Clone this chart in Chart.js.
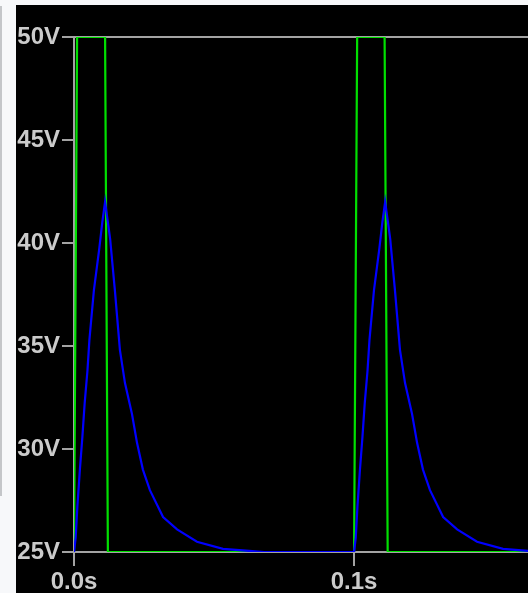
<!DOCTYPE html>
<html lang="en">
<head>
  <meta charset="UTF-8">
  <title>Transient</title>
  <style>
    body { margin: 0; background: #f7f8fa; width: 528px; height: 593px; overflow: hidden; position: relative; }
    .edge { position: absolute; left: 0; top: 6px; width: 2px; height: 490px; background: #c4c6c9; }
    .plot { position: absolute; left: 16px; top: 5px; width: 512px; height: 588px; background: #000; }
  </style>
</head>
<body>
  <div class="edge"></div>
  <div class="plot">
    <canvas id="chart" width="512" height="588"></canvas>
  </div>
  <script src="https://cdn.jsdelivr.net/npm/chart.js@4/dist/chart.umd.min.js"></script>
  <script>
    // tick labels
    const voltTicks = [25, 30, 35, 40, 45, 50];
    const timeTicks = [0, 0.1];

    // green trace (square pulse)
    const greenTimes = [0, 0.0011, 0.0111, 0.0121, 0.1, 0.1011, 0.1109, 0.112, 0.1621];
    const greenVolts = [25, 50, 50, 25, 25, 50, 50, 25, 25];

    // blue trace (charge / discharge)
    const blueTimes = [
      0, 0.0006, 0.0012, 0.0021, 0.003, 0.0038, 0.0048, 0.0055, 0.0071, 0.009, 0.0101, 0.0111,
      0.0121, 0.0129, 0.0146, 0.0164, 0.0182, 0.0207, 0.0225, 0.0246, 0.0271, 0.0318, 0.0368,
      0.0439, 0.0532, 0.0625, 0.0679,
      0.1, 0.1006, 0.1012, 0.1021, 0.103, 0.1038, 0.1048, 0.1055, 0.1071, 0.109, 0.1101, 0.1111,
      0.1121, 0.1129, 0.1146, 0.1164, 0.1182, 0.1207, 0.1225, 0.1246, 0.1271, 0.1318, 0.1368,
      0.1439, 0.1532, 0.1621
    ];
    const blueVolts = [
      25, 25.7, 27.2, 29.0, 30.6, 32.2, 33.8, 35.3, 37.7, 39.7, 41.0, 42.0,
      41.0, 40.2, 37.7, 34.8, 33.2, 31.7, 30.3, 29.0, 28.0, 26.7, 26.1,
      25.5, 25.15, 25.05, 25.0,
      25, 25.7, 27.2, 29.0, 30.6, 32.2, 33.8, 35.3, 37.7, 39.7, 41.0, 42.0,
      41.0, 40.2, 37.7, 34.8, 33.2, 31.7, 30.3, 29.0, 28.0, 26.7, 26.1,
      25.5, 25.15, 25.05
    ];

    const gray = '#a3a3a3';
    const labelFont = { family: 'Arial, "Liberation Sans"', size: 24, weight: 'bold' };
    const points = (xs, ys) => xs.map((x, i) => ({ x: x, y: ys[i] }));

    new Chart(document.querySelector('#chart').getContext('2d'), {
      type: 'line',
      data: {
        datasets: [
          { data: points(blueTimes, blueVolts), borderColor: '#0000ff', borderWidth: 2.2 },
          { data: points(greenTimes, greenVolts), borderColor: '#00e000', borderWidth: 2.2 }
        ]
      },
      options: {
        responsive: false,
        animation: false,
        events: [],
        layout: { padding: { top: 32, right: 0, left: 0, bottom: 0 } },
        elements: { point: { radius: 0 }, line: { tension: 0 } },
        plugins: { legend: { display: false }, tooltip: { enabled: false } },
        scales: {
          x: {
            type: 'linear',
            min: 0,
            max: 0.1621,
            afterBuildTicks: (s) => { s.ticks = timeTicks.map((v) => ({ value: v })); },
            afterFit: (s) => { s.height = 41; },
            ticks: {
              color: '#cbcbcb',
              font: labelFont,
              padding: 2,
              maxRotation: 0,
              autoSkip: false,
              callback: (v) => v.toFixed(1) + 's'
            },
            grid: { color: 'transparent', tickColor: gray, tickLength: 14, lineWidth: 2 },
            border: { display: true, color: gray, width: 2 }
          },
          y: {
            min: 25,
            max: 50,
            afterBuildTicks: (s) => { s.ticks = voltTicks.map((v) => ({ value: v })); },
            afterFit: (s) => { s.width = 58; },
            ticks: {
              color: '#cbcbcb',
              font: labelFont,
              padding: 2,
              callback: (v) => v + 'V'
            },
            grid: {
              color: (ctx) => (ctx.tick && (ctx.tick.value === 50 || ctx.tick.value === 25)) ? gray : 'transparent',
              tickColor: gray,
              tickLength: 12,
              lineWidth: 2
            },
            border: { display: true, color: gray, width: 2 }
          }
        }
      }
    });
  </script>
</body>
</html>
